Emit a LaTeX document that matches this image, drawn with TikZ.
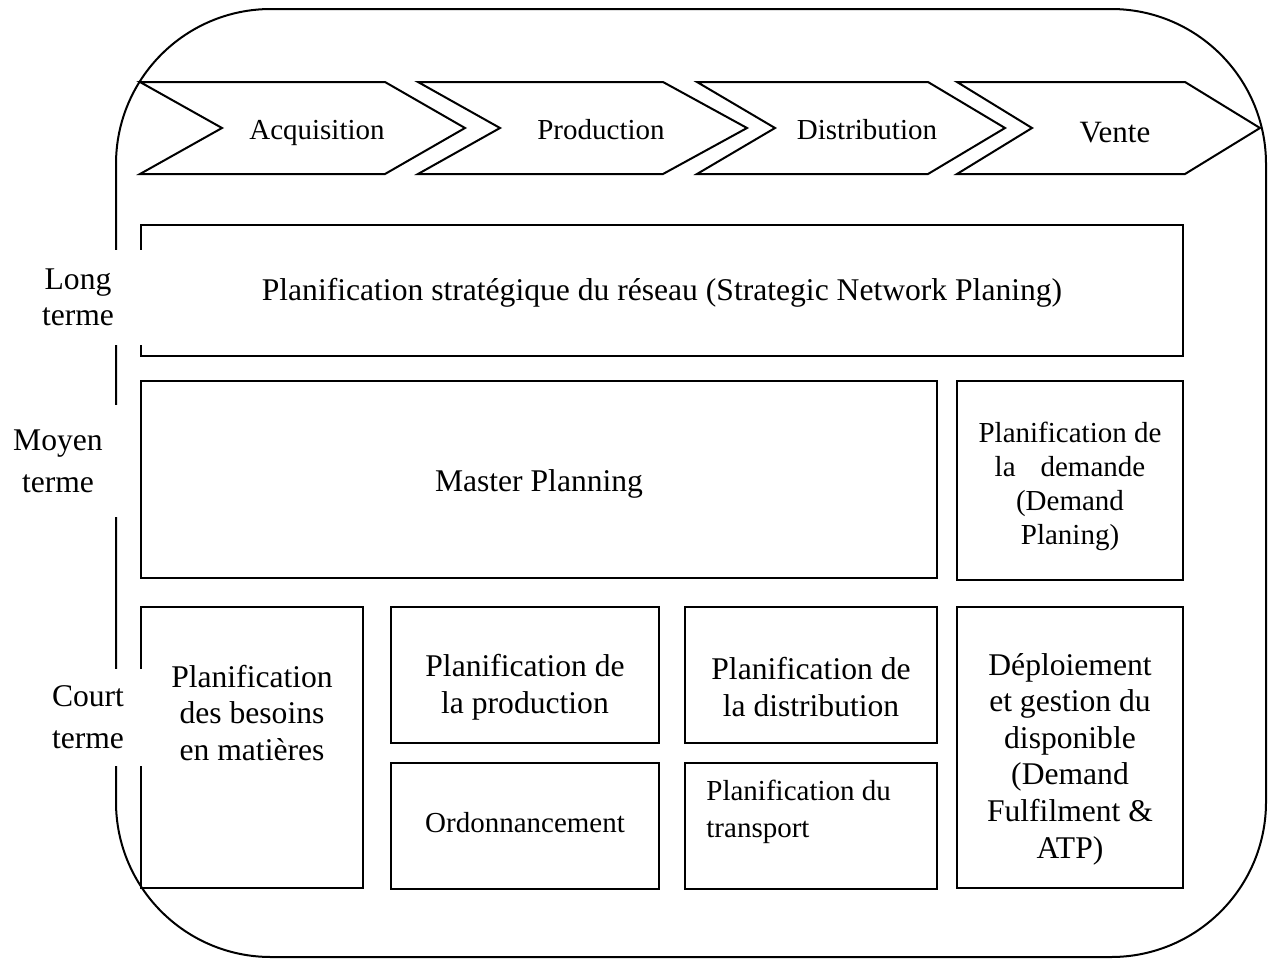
\documentclass[tikz,border=0pt]{standalone}
\usepackage{fontspec}
\setmainfont{Liberation Serif}
\begin{document}
\begin{tikzpicture}[x=0.5pt,y=-0.5pt,
  frame/.style={draw=black, line width=1pt},
  bigtxt/.style={font=\fontsize{15.8}{18.3}\selectfont, align=center, inner sep=0pt},
  smalltxt/.style={font=\fontsize{14.5}{17}\selectfont, align=center, inner sep=0pt},
  steptxt/.style={font=\fontsize{14.5}{17}\selectfont, inner sep=0pt, anchor=base},
  sidelabel/.style={align=center, fill=white, inner sep=0pt}
]
\useasboundingbox (0,0) rectangle (1268,958);

% outer rounded frame
\draw[frame, rounded corners=77.5pt] (116,9) rectangle (1266,957);

% value chain chevrons
\draw[frame] (140,82) -- (385,82) -- (465,128) -- (385,174) -- (140,174) -- (222,128) -- cycle;
\draw[frame] (418,82) -- (663,82) -- (747,128) -- (663,174) -- (418,174) -- (500,128) -- cycle;
\draw[frame] (697,82) -- (928,82) -- (1005,128) -- (928,174) -- (697,174) -- (775,128) -- cycle;
\draw[frame] (957,82) -- (1185,82) -- (1260,128) -- (1185,174) -- (957,174) -- (1032,128) -- cycle;
\node[steptxt] (acq) at (317,139) {Acquisition};
\node[steptxt] (prod) at (601,139) {Production};
\node[steptxt] (dist) at (867,139) {Distribution};
\node[steptxt, font=\fontsize{15.5}{18}\selectfont] (vente) at (1115,142) {Vente};

% planning blocks
\draw[frame] (141,225) rectangle (1183,356);
\node[bigtxt] (snp) at (662,293) {Planification stratégique du réseau (Strategic Network Planing)};

\draw[frame] (141,381) rectangle (937,578);
\node[bigtxt] (mp) at (539,484) {Master Planning};

\draw[frame] (957,381) rectangle (1183,580);
\node[smalltxt] (dp) at (1070,486) {Planification de\\la\hspace{0.86em}demande\\(Demand\\Planing)};

\draw[frame] (141,607) rectangle (363,888);
\node[bigtxt] (mrp) at (252,713) {Planification\\des besoins\\en matières};

\draw[frame] (391,607) rectangle (659,743);
\node[bigtxt] (pp) at (525,687) {Planification de\\la production};

\draw[frame] (391,763) rectangle (659,889);
\node[smalltxt] (ord) at (525,823) {Ordonnancement};

\draw[frame] (685,607) rectangle (937,743);
\node[bigtxt] (dpl) at (811,687) {Planification de\\la distribution};

\draw[frame] (685,763) rectangle (937,889);
\node[smalltxt, align=left, anchor=west, font=\fontsize{14.5}{18.5}\selectfont] (tp) at (706,812) {Planification du\\transport};

\draw[frame] (957,607) rectangle (1183,888);
\node[bigtxt] (atp) at (1070,759) {Déploiement\\et gestion du\\disponible\\(Demand\\Fulfilment \&\\ATP)};

% horizon labels
\node[sidelabel, font=\fontsize{15.8}{18}\selectfont, minimum width=65pt, minimum height=47.5pt] (long) at (78,297) {Long\\terme};
\node[sidelabel, font=\fontsize{15.8}{21}\selectfont, minimum width=62pt, minimum height=56pt] (moyen) at (58,461) {Moyen\\terme};
\node[sidelabel, font=\fontsize{15.8}{21}\selectfont, minimum width=56pt, minimum height=48.5pt] (court) at (88,717) {Court\\terme};
\end{tikzpicture}
\end{document}
